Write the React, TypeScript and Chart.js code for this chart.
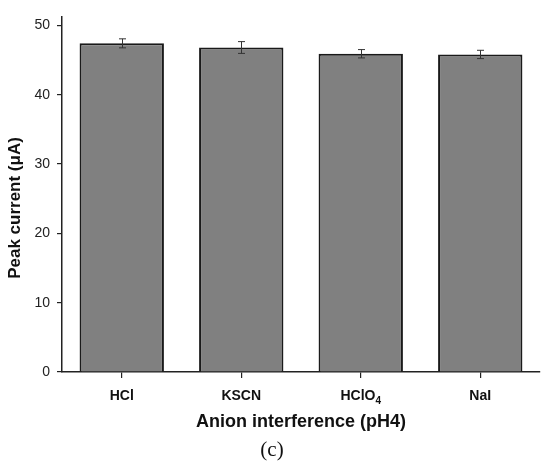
import React, { useEffect, useRef } from "react";
import { Chart, registerables } from "chart.js";

Chart.register(...registerables);

const categories = ["HCl", "KSCN", "HClO₄", "NaI"];
const peakCurrent = [47.4, 46.8, 45.9, 45.8];
const errorValues = [0.65, 0.85, 0.6, 0.6];
const yTicks = [0, 10, 20, 30, 40, 50];
const yMax = 51.2;
const xTitle = "Anion interference (pH4)";
const yTitle = "Peak current (μA)";
const panelLabel = "(c)";

const SUBS: Record<string, string> = { "₀": "0", "₁": "1", "₂": "2", "₃": "3", "₄": "4", "₅": "5", "₆": "6", "₇": "7", "₈": "8", "₉": "9" };

const errorBarPlugin = {
  id: "errorBars",
  afterDatasetsDraw(chart: any) {
    const ctx = chart.ctx;
    const meta = chart.getDatasetMeta(0);
    const ys = chart.scales.y;
    ctx.save();
    ctx.strokeStyle = "#333";
    ctx.lineWidth = 1;
    meta.data.forEach((bar: any, i: number) => {
      const v = peakCurrent[i];
      const e = errorValues[i];
      const x = Math.round(bar.x) + 0.5;
      const yt = ys.getPixelForValue(v + e);
      const yb = ys.getPixelForValue(v - e);
      ctx.beginPath();
      ctx.moveTo(x, yt);
      ctx.lineTo(x, yb);
      ctx.moveTo(x - 3.5, yt);
      ctx.lineTo(x + 3.5, yt);
      ctx.moveTo(x - 3.5, yb);
      ctx.lineTo(x + 3.5, yb);
      ctx.stroke();
    });
    ctx.restore();
  },
};

const textPlugin = {
  id: "texts",
  afterDraw(chart: any) {
    const ctx = chart.ctx;
    const xs = chart.scales.x;
    const area = chart.chartArea;
    ctx.save();
    ctx.fillStyle = "#111";
    ctx.textBaseline = "middle";
    categories.forEach((label, i) => {
      const cx = xs.getPixelForValue(i);
      const y = area.bottom + 24;
      const parts: { t: string; sub: boolean }[] = [];
      for (const ch of label) {
        const sub = ch in SUBS;
        const t = sub ? SUBS[ch] : ch;
        if (parts.length && parts[parts.length - 1].sub === sub) parts[parts.length - 1].t += t;
        else parts.push({ t, sub });
      }
      const mainFont = "bold 14px 'Liberation Sans', Arial, sans-serif";
      const subFont = "bold 10px 'Liberation Sans', Arial, sans-serif";
      let total = 0;
      parts.forEach((p) => {
        ctx.font = p.sub ? subFont : mainFont;
        total += ctx.measureText(p.t).width;
      });
      let x = cx - total / 2;
      ctx.textAlign = "left";
      parts.forEach((p) => {
        ctx.font = p.sub ? subFont : mainFont;
        ctx.fillText(p.t, x, p.sub ? y + 5 : y);
        x += ctx.measureText(p.t).width;
      });
    });
    ctx.textAlign = "center";
    ctx.font = "bold 18px 'Liberation Sans', Arial, sans-serif";
    ctx.fillText(xTitle, (area.left + area.right) / 2, area.bottom + 50);
    ctx.font = "21px 'Liberation Serif', 'Times New Roman', serif";
    ctx.fillText(panelLabel, 272, area.bottom + 78);
    ctx.save();
    ctx.translate(15, 208);
    ctx.rotate(-Math.PI / 2);
    ctx.font = "bold 17px 'Liberation Sans', Arial, sans-serif";
    ctx.fillText(yTitle, 0, 0);
    ctx.restore();
    ctx.restore();
  },
};

export default function App() {
  const ref = useRef<HTMLCanvasElement | null>(null);
  useEffect(() => {
    document.body.style.margin = "0";
    const canvas = ref.current!;
    const chart = new Chart(canvas, {
      type: "bar",
      data: {
        labels: categories,
        datasets: [
          {
            data: peakCurrent,
            backgroundColor: "#808080",
            borderColor: "#1a1a1a",
            borderWidth: 2,
            borderSkipped: "bottom",
            categoryPercentage: 1,
            barPercentage: 0.706,
          },
        ],
      },
      options: {
        animation: false,
        responsive: false,
        devicePixelRatio: 1,
        layout: { padding: { top: 17, right: 10, left: 0, bottom: 0 } },
        plugins: { legend: { display: false }, tooltip: { enabled: false }, title: { display: false } },
        scales: {
          x: {
            offset: true,
            grid: { display: true, drawOnChartArea: false, drawTicks: true, tickLength: 6, offset: false, color: "#222", lineWidth: 1.2 },
            border: { display: true, color: "#222", width: 1.5 },
            ticks: { display: false },
            afterFit: (s: any) => { s.height = 94; },
          },
          y: {
            min: 0,
            max: yMax,
            grid: { display: true, drawOnChartArea: false, drawTicks: true, tickLength: 5, color: "#222", lineWidth: 1.2 },
            border: { display: true, color: "#222", width: 1.5 },
            afterBuildTicks: (s: any) => { s.ticks = yTicks.map((v) => ({ value: v })); },
            ticks: {
              padding: 7,
              color: "#222",
              font: { family: "'Liberation Sans', Arial, sans-serif", size: 14 },
            },
            afterFit: (s: any) => { s.width = 62; },
          },
        },
      },
      plugins: [errorBarPlugin, textPlugin],
    });
    return () => chart.destroy();
  }, []);
  return (
    <div style={{ width: 550, height: 466, background: "#fff" }}>
      <canvas ref={ref} width={550} height={466} style={{ display: "block", width: 550, height: 466 }} />
    </div>
  );
}
